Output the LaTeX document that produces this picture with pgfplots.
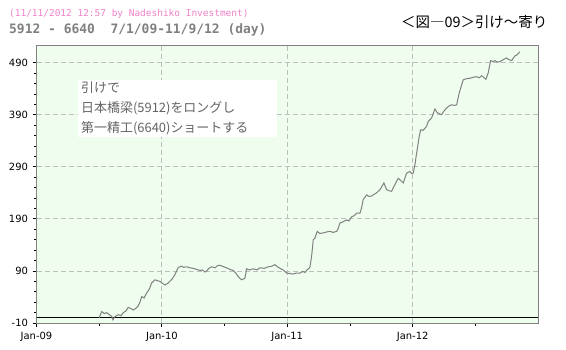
\documentclass[border=0pt]{standalone}
\usepackage{fontspec}
\setmainfont{DejaVu Sans}
\newfontfamily\cjk{Noto Sans CJK JP}
\newfontfamily\mono{DejaVu Sans Mono}
\usepackage{pgfplots}
\usepackage{pgfplotstable}
\pgfplotsset{compat=1.18}
\definecolor{bggreen}{RGB}{238,253,238}
\definecolor{pinktxt}{RGB}{240,130,200}
\definecolor{graytxt}{RGB}{128,128,128}
\definecolor{boxtxt}{RGB}{100,100,100}
\definecolor{gridgray}{RGB}{190,190,190}
\definecolor{framegray}{RGB}{128,128,128}

\pgfplotstableread{
m v
6.0 0
6.24 12
6.5 8
6.72 10
7.03 5
7.2 3
7.32 -4
7.5 2
7.83 6
8.1 4
8.31 10
8.55 13
8.78 20
9.0 18
9.26 15
9.5 18
9.74 23
9.9 30
10.07 41
10.3 38
10.55 48
10.8 55
11.02 67
11.34 73
11.6 71
11.82 70
12.05 66
12.30 63
12.55 66
12.77 70
13.0 75
13.25 83
13.57 97
13.9 99
14.1 97
14.37 98
14.7 96
15.00 95
15.3 93
15.64 91
15.9 92
16.1 88
16.29 90
16.5 95
16.77 98
17.1 96
17.3 100
17.56 101
17.9 98
18.20 96
18.5 93
18.83 91
19.1 85
19.31 79
19.5 75
19.64 73
19.95 76
20.11 94
20.4 92
20.75 94
21.1 92
21.39 96
21.8 95
22.18 98
22.5 99
22.82 102
23.0 99
23.30 95
23.6 92
23.94 86
24.25 85
24.57 84
24.9 86
25.21 86
25.5 89
25.69 87
25.9 92
26.17 97
26.33 118
26.49 150
26.65 153
26.87 166
27.1 162
27.44 163
27.8 165
28.09 166
28.4 164
28.73 166
28.88 172
29.04 182
29.3 184
29.68 188
29.9 186
30.16 194
30.4 196
30.64 201
30.96 201
31.1 210
31.27 227
31.60 236
31.8 233
32.08 234
32.3 237
32.55 240
32.87 246
33.05 252
33.25 259
33.51 246
33.75 244
33.99 243
34.15 250
34.31 256
34.62 268
34.9 263
35.10 259
35.43 278
35.74 281
35.9 277
36.06 278
36.22 294
36.38 316
36.63 348
36.76 361
37.0 360
37.18 364
37.35 368
37.49 377
37.82 384
38.13 401
38.35 394
38.55 392
38.77 390
39.0 397
39.25 403
39.5 407
39.73 409
40.0 408
40.21 409
40.46 432
40.84 457
41.1 459
41.48 460
41.8 462
42.12 463
42.4 461
42.60 465
42.85 461
43.01 458
43.23 470
43.46 494
43.7 492
43.87 494
44.1 491
44.35 492
44.7 496
44.99 499
45.2 496
45.47 494
45.79 503
46.0 505
46.27 511
}\spread

\begin{document}
\begin{tikzpicture}[x=1bp,y=1bp]
\useasboundingbox (0,0) rectangle (566,349);
\begin{axis}[
  at={(36.5bp,26bp)}, anchor=south west,
  scale only axis, width=501.5bp, height=277bp,
  xmin=0, xmax=48, ymin=-10, ymax=522,
  xtick={0,12,24,36}, xticklabels={Jan-09,Jan-10,Jan-11,Jan-12},
  minor xtick={6,18,30,42},
  ytick={-10,90,190,290,390,490},
  minor y tick num=4,
  xtick pos=bottom, ytick pos=left,
  tick align=outside,
  major tick length=4bp, minor tick length=3bp,
  tick style={black, line width=0.8bp},
  grid=major,
  major grid style={draw=gridgray, dash pattern=on 5bp off 3bp, line width=0.8bp},
  axis line style={draw=framegray, line width=1bp},
  axis background/.style={fill=bggreen},
  tick label style={font=\fontsize{10}{12}\selectfont, text=black},
  /pgf/number format/assume math mode=true,
  xticklabel style={yshift=-2bp},
  yticklabel style={xshift=-1bp},
]
\addplot[black, line width=1bp] coordinates {(0,0) (48,0)};
\addplot[graytxt, line width=1bp] table[x=m, y=v] {\spread};
\end{axis}
\fill[white] (78,212) rectangle (277,269);
\node[anchor=west, inner sep=0, text=boxtxt, font=\cjk\fontsize{13}{15}\selectfont] at (81,261) {引けで};
\node[anchor=west, inner sep=0, text=boxtxt, font=\cjk\fontsize{13}{15}\selectfont] at (81,241) {日本橋梁(5912)をロングし};
\node[anchor=west, inner sep=0, text=boxtxt, font=\cjk\fontsize{13}{15}\selectfont] at (81,221) {第一精工(6640)ショートする};
\node[anchor=west, inner sep=0, text=pinktxt, font=\mono\fontsize{9.5}{11}\selectfont] at (9,335) {(11/11/2012 12:57 by Nadeshiko Investment)};
\node[anchor=west, inner sep=0, text=graytxt, font=\mono\bfseries\fontsize{13}{15}\selectfont] at (9,319) {5912 - 6640\ \ 7/1/09-11/9/12 (day)};
\node[anchor=west, inner sep=0, text=black, font=\cjk\fontsize{14.5}{16}\selectfont] at (401,327) {＜図―09＞引け～寄り};
\end{tikzpicture}
\end{document}
